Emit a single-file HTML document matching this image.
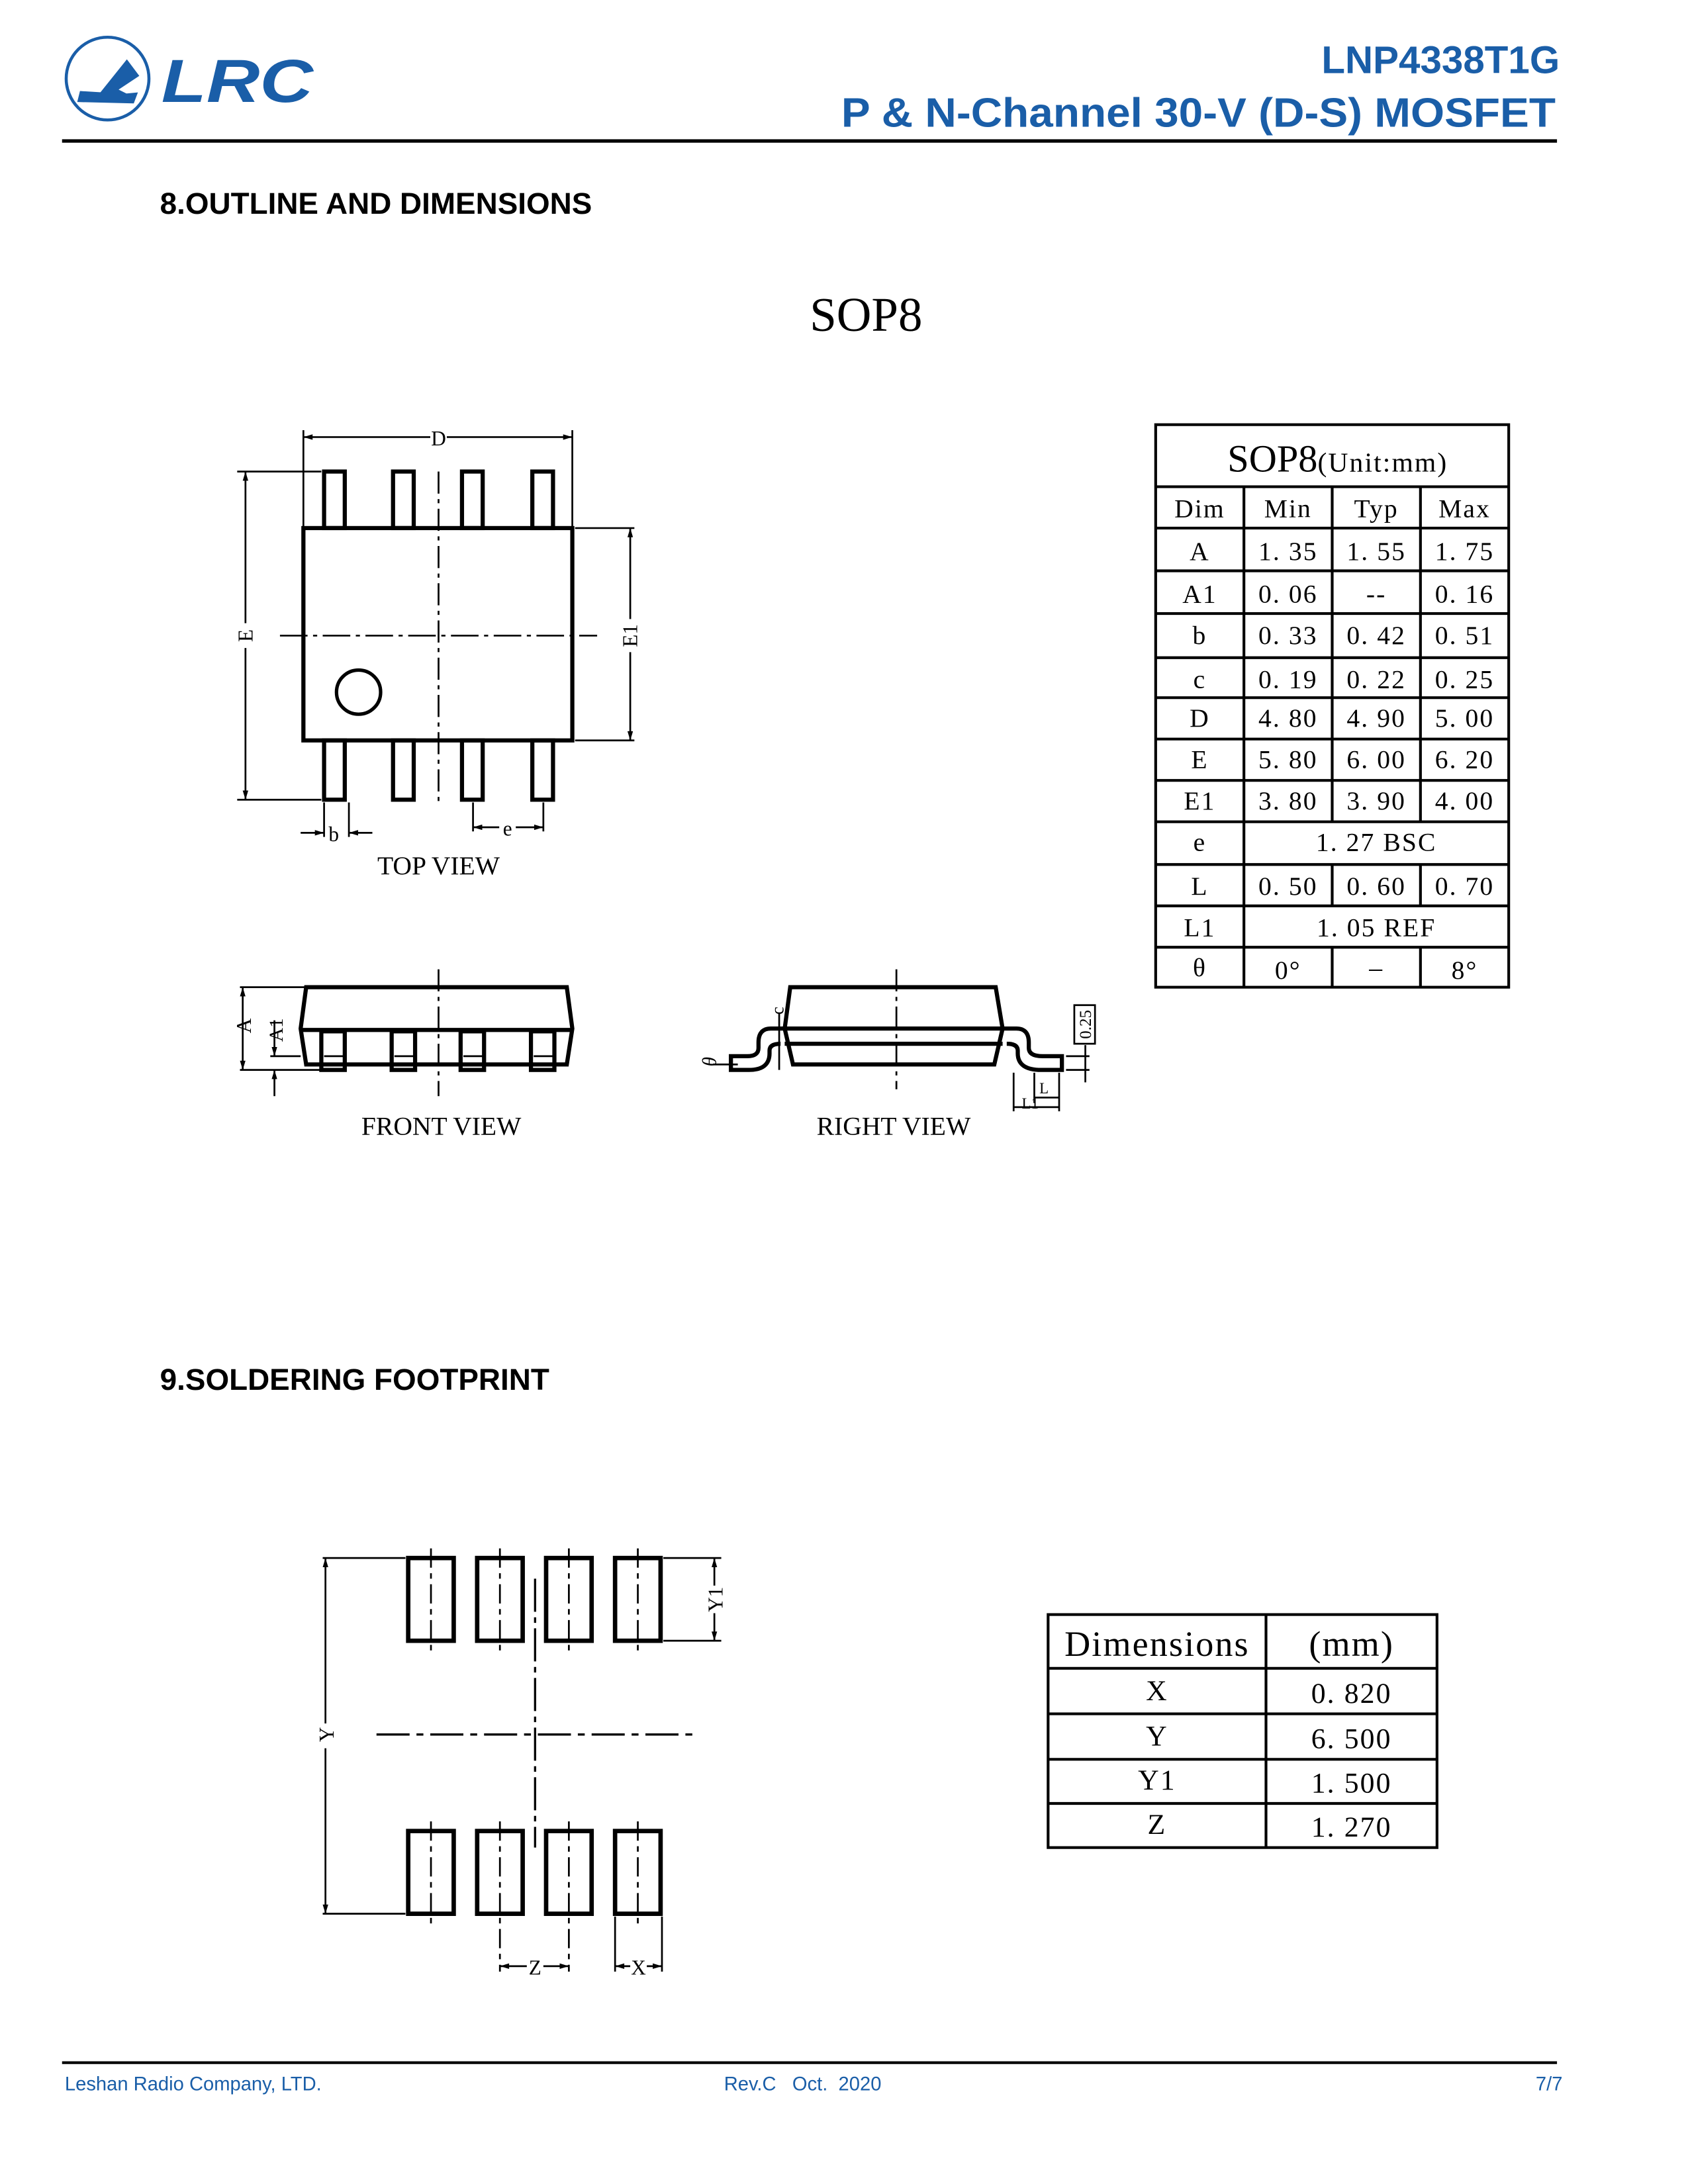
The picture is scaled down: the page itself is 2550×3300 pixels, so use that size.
<!DOCTYPE html>
<html><head><meta charset="utf-8"><style>
html,body{margin:0;padding:0;background:#fff;}
svg{display:block;}
.s{font-family:"Liberation Serif","Noto Serif CJK SC",serif;fill:#000;}
.h{font-family:"Liberation Sans",sans-serif;font-weight:bold;}
.b{font-family:"Liberation Sans",sans-serif;fill:#1a5ea8;}
.t{letter-spacing:1px;}
</style></head><body>
<svg width="2550" height="3300" viewBox="0 0 1224 1584" xmlns="http://www.w3.org/2000/svg">
<defs>
<marker id="ar" viewBox="0 0 10 6" refX="10" refY="3" markerWidth="8" markerHeight="4" orient="auto-start-reverse" markerUnits="userSpaceOnUse"><path d="M0,0 L10,3 L0,6 z" fill="#000"/></marker>
</defs>
<rect width="1224" height="1584" fill="#fff"/>
<!-- header -->
<circle cx="78" cy="57" r="30" fill="none" stroke="#1a5ea8" stroke-width="2.2"/>
<path d="M58,66 L90,68 L100,67 L97,75 L56,74 Z M72,68 L92,43 L101,55 L86,65 L92,68 Z" fill="#1a5ea8"/>
<text x="117" y="74" class="b" font-size="44" font-weight="bold" font-style="italic" textLength="110" lengthAdjust="spacingAndGlyphs">LRC</text>
<text x="1131" y="53" class="b" font-size="28" font-weight="bold" text-anchor="end">LNP4338T1G</text>
<text x="1128" y="92" class="b" font-size="30" font-weight="bold" text-anchor="end" textLength="518" lengthAdjust="spacingAndGlyphs">P &amp; N-Channel 30-V (D-S) MOSFET</text>
<rect x="45" y="101" width="1084" height="2.5" fill="#000"/>
<text x="116" y="155" class="h" font-size="22">8.OUTLINE AND DIMENSIONS</text>
<text x="628" y="240" class="s" font-size="35" text-anchor="middle">SOP8</text>

<!-- TOP VIEW -->
<g fill="none" stroke="#000" stroke-width="3">
<rect x="220" y="383" width="195" height="154"/>
<rect x="235" y="342" width="15" height="41"/><rect x="285" y="342" width="15" height="41"/><rect x="335" y="342" width="15" height="41"/><rect x="386" y="342" width="15" height="41"/>
<rect x="235" y="537" width="15" height="43"/><rect x="285" y="537" width="15" height="43"/><rect x="335" y="537" width="15" height="43"/><rect x="386" y="537" width="15" height="43"/>
<circle cx="260" cy="502" r="16" stroke-width="2.5"/>
</g>
<g stroke="#000" stroke-width="1.3" fill="none">
<line x1="318" y1="342" x2="318" y2="585" stroke-dasharray="16,4,3,4"/>
<line x1="203" y1="461" x2="433" y2="461" stroke-dasharray="20,4,3,4"/>
<line x1="220" y1="312" x2="220" y2="383"/><line x1="415" y1="312" x2="415" y2="383"/>
<line x1="220" y1="317" x2="312" y2="317" marker-start="url(#ar)"/><line x1="324" y1="317" x2="415" y2="317" marker-end="url(#ar)"/>
<line x1="172" y1="342" x2="233" y2="342"/><line x1="172" y1="580" x2="233" y2="580"/>
<line x1="178" y1="342" x2="178" y2="452" marker-start="url(#ar)"/><line x1="178" y1="470" x2="178" y2="580" marker-end="url(#ar)"/>
<line x1="417" y1="383" x2="460" y2="383"/><line x1="417" y1="537" x2="460" y2="537"/>
<line x1="457" y1="383" x2="457" y2="449" marker-start="url(#ar)"/><line x1="457" y1="473" x2="457" y2="537" marker-end="url(#ar)"/>
<line x1="235" y1="582" x2="235" y2="607"/><line x1="253" y1="582" x2="253" y2="607"/>
<line x1="218" y1="604" x2="235" y2="604" marker-end="url(#ar)"/><line x1="270" y1="604" x2="253" y2="604" marker-end="url(#ar)"/>
<line x1="343" y1="582" x2="343" y2="603"/><line x1="394" y1="582" x2="394" y2="603"/>
<line x1="343" y1="600" x2="362" y2="600" marker-start="url(#ar)"/><line x1="374" y1="600" x2="394" y2="600" marker-end="url(#ar)"/>
</g>
<text x="318" y="323" class="s" font-size="15" text-anchor="middle">D</text>
<text transform="translate(183,461) rotate(-90)" class="s" font-size="15" text-anchor="middle">E</text>
<text transform="translate(462,461) rotate(-90)" class="s" font-size="15" text-anchor="middle">E1</text>
<text x="242" y="610" class="s" font-size="15" text-anchor="middle">b</text>
<text x="368" y="606" class="s" font-size="15" text-anchor="middle">e</text>
<text x="318" y="634" class="s" font-size="19" text-anchor="middle">TOP VIEW</text>

<!-- FRONT VIEW -->
<g fill="none" stroke="#000" stroke-width="3">
<path d="M222,716 L411,716 L415,746 L411,772 L222,772 L218,746 Z"/>
<line x1="218" y1="747" x2="415" y2="747"/>
<rect x="233" y="748" width="17" height="28"/><rect x="284" y="748" width="17" height="28"/><rect x="334" y="748" width="17" height="28"/><rect x="385" y="748" width="17" height="28"/>
</g>
<g stroke="#000" stroke-width="1.3" fill="none">
<line x1="235" y1="766" x2="249" y2="766"/><line x1="286" y1="766" x2="300" y2="766"/><line x1="336" y1="766" x2="350" y2="766"/><line x1="387" y1="766" x2="401" y2="766"/>
<line x1="318" y1="703" x2="318" y2="795" stroke-dasharray="16,4,3,4"/>
<line x1="174" y1="716" x2="222" y2="716"/><line x1="174" y1="776" x2="232" y2="776"/>
<line x1="176" y1="716" x2="176" y2="776" marker-start="url(#ar)" marker-end="url(#ar)"/>
<line x1="196" y1="766" x2="218" y2="766"/>
<line x1="199" y1="740" x2="199" y2="766" marker-end="url(#ar)"/><line x1="199" y1="795" x2="199" y2="776" marker-end="url(#ar)"/>
</g>
<text transform="translate(182,744) rotate(-90)" class="s" font-size="15" text-anchor="middle">A</text>
<text transform="translate(205,747) rotate(-90)" class="s" font-size="14" text-anchor="middle">A1</text>
<text x="320" y="823" class="s" font-size="19" text-anchor="middle">FRONT VIEW</text>

<!-- RIGHT VIEW -->
<g fill="none" stroke="#000" stroke-width="3">
<path d="M573,716 L722,716 L727,746 L721,772 L575,772 L569,746 Z"/>
<line x1="569" y1="746" x2="727" y2="746"/>
<line x1="569" y1="757" x2="727" y2="757"/>
<path d="M727,746 L737,746 Q746,746 746,756 L746,760 Q746,766 756,766 L770,766 L770,776 L755,776 Q738,776 738,764 L738,762 Q738,757 730,757"/>
<path d="M569,746 L559,746 Q550,746 550,756 L550,760 Q550,766 542,766 L530,766 L530,776 L543,776 Q558,776 558,764 L558,762 Q558,757 566,757"/>
</g>
<g stroke="#000" stroke-width="1.3" fill="none">
<line x1="650" y1="703" x2="650" y2="790" stroke-dasharray="16,4,3,4"/>
<line x1="565" y1="735" x2="565" y2="776"/>
<line x1="773" y1="766" x2="790" y2="766"/><line x1="773" y1="776" x2="790" y2="776"/>
<line x1="787" y1="758" x2="787" y2="785"/>
<line x1="750" y1="778" x2="750" y2="800"/><line x1="768" y1="778" x2="768" y2="806"/><line x1="735" y1="778" x2="735" y2="806"/>
<line x1="750" y1="796" x2="768" y2="796"/>
<line x1="735" y1="803" x2="768" y2="803"/>
<line x1="517" y1="772" x2="535" y2="772"/>
</g>
<rect x="779" y="729" width="15" height="28" fill="#fff" stroke="#000" stroke-width="1.3"/>
<text transform="translate(791,743) rotate(-90)" class="s" font-size="12" text-anchor="middle">0.25</text>
<text transform="translate(568,733) rotate(-90)" class="s" font-size="13" text-anchor="middle">c</text>
<text transform="translate(519,770) rotate(-90)" class="s" font-size="14" font-style="italic" text-anchor="middle">θ</text>
<text x="757" y="793" class="s" font-size="11" text-anchor="middle">L</text>
<text x="747" y="804" class="s" font-size="11" text-anchor="middle">L1</text>
<text x="648" y="823" class="s" font-size="19" text-anchor="middle">RIGHT VIEW</text>

<!-- Dim table -->
<g stroke="#000" stroke-width="2" fill="none">
<rect x="838" y="308" width="256" height="408"/>
<line x1="838" y1="353" x2="1094" y2="353"/>
<line x1="838" y1="383" x2="1094" y2="383"/><line x1="838" y1="414" x2="1094" y2="414"/><line x1="838" y1="445" x2="1094" y2="445"/>
<line x1="838" y1="477" x2="1094" y2="477"/><line x1="838" y1="506" x2="1094" y2="506"/><line x1="838" y1="536" x2="1094" y2="536"/>
<line x1="838" y1="566" x2="1094" y2="566"/><line x1="838" y1="596" x2="1094" y2="596"/><line x1="838" y1="627" x2="1094" y2="627"/>
<line x1="838" y1="657" x2="1094" y2="657"/><line x1="838" y1="687" x2="1094" y2="687"/>
<line x1="902" y1="353" x2="902" y2="716"/>
<line x1="966" y1="353" x2="966" y2="596"/><line x1="1030" y1="353" x2="1030" y2="596"/>
<line x1="966" y1="627" x2="966" y2="657"/><line x1="1030" y1="627" x2="1030" y2="657"/>
<line x1="966" y1="687" x2="966" y2="716"/><line x1="1030" y1="687" x2="1030" y2="716"/>
</g>
<text x="970" y="342" class="s" text-anchor="middle"><tspan font-size="28">SOP8</tspan><tspan font-size="20" letter-spacing="1">(Unit:mm)</tspan></text>
<g class="s t" font-size="19" text-anchor="middle">
<text x="870" y="375">Dim</text><text x="934" y="375">Min</text><text x="998" y="375">Typ</text><text x="1062" y="375">Max</text>
<text x="870" y="406">A</text><text x="934" y="406">1. 35</text><text x="998" y="406">1. 55</text><text x="1062" y="406">1. 75</text>
<text x="870" y="437">A1</text><text x="934" y="437">0. 06</text><text x="998" y="437">--</text><text x="1062" y="437">0. 16</text>
<text x="870" y="467">b</text><text x="934" y="467">0. 33</text><text x="998" y="467">0. 42</text><text x="1062" y="467">0. 51</text>
<text x="870" y="499">c</text><text x="934" y="499">0. 19</text><text x="998" y="499">0. 22</text><text x="1062" y="499">0. 25</text>
<text x="870" y="527">D</text><text x="934" y="527">4. 80</text><text x="998" y="527">4. 90</text><text x="1062" y="527">5. 00</text>
<text x="870" y="557">E</text><text x="934" y="557">5. 80</text><text x="998" y="557">6. 00</text><text x="1062" y="557">6. 20</text>
<text x="870" y="587">E1</text><text x="934" y="587">3. 80</text><text x="998" y="587">3. 90</text><text x="1062" y="587">4. 00</text>
<text x="870" y="617">e</text><text x="998" y="617">1. 27 BSC</text>
<text x="870" y="649">L</text><text x="934" y="649">0. 50</text><text x="998" y="649">0. 60</text><text x="1062" y="649">0. 70</text>
<text x="870" y="679">L1</text><text x="998" y="679">1. 05 REF</text>
<text x="870" y="708">θ</text><text x="934" y="710">0°</text><text x="998" y="708">–</text><text x="1062" y="710">8°</text>
</g>

<!-- Footprint -->
<text x="116" y="1008" class="h" font-size="22">9.SOLDERING  FOOTPRINT</text>
<g fill="none" stroke="#000" stroke-width="3.2">
<rect x="296" y="1130" width="33" height="60"/><rect x="346" y="1130" width="33" height="60"/><rect x="396" y="1130" width="33" height="60"/><rect x="446" y="1130" width="33" height="60"/>
<rect x="296" y="1328" width="33" height="60"/><rect x="346" y="1328" width="33" height="60"/><rect x="396" y="1328" width="33" height="60"/><rect x="446" y="1328" width="33" height="60"/>
</g>
<g stroke="#000" stroke-width="1.3" fill="none">
<g stroke-dasharray="14,4,4,4">
<line x1="312.5" y1="1123" x2="312.5" y2="1197"/><line x1="362.5" y1="1123" x2="362.5" y2="1197"/><line x1="412.5" y1="1123" x2="412.5" y2="1197"/><line x1="462.5" y1="1123" x2="462.5" y2="1197"/>
<line x1="312.5" y1="1321" x2="312.5" y2="1395"/><line x1="462.5" y1="1321" x2="462.5" y2="1395"/>
<line x1="362.5" y1="1321" x2="362.5" y2="1430"/><line x1="412.5" y1="1321" x2="412.5" y2="1430"/>
</g>
<line x1="388" y1="1145" x2="388" y2="1340" stroke-dasharray="24,4,4,4" stroke-width="1.6"/>
<line x1="273" y1="1258" x2="503" y2="1258" stroke-dasharray="24,5,5,5" stroke-width="1.6"/>
<line x1="234" y1="1130" x2="294" y2="1130"/><line x1="234" y1="1388" x2="294" y2="1388"/>
<line x1="236" y1="1130" x2="236" y2="1250" marker-start="url(#ar)"/><line x1="236" y1="1268" x2="236" y2="1388" marker-end="url(#ar)"/>
<line x1="481" y1="1130" x2="523" y2="1130"/><line x1="481" y1="1190" x2="523" y2="1190"/>
<line x1="518" y1="1130" x2="518" y2="1150" marker-start="url(#ar)"/><line x1="518" y1="1170" x2="518" y2="1190" marker-end="url(#ar)"/>
<line x1="362.5" y1="1426" x2="382" y2="1426" marker-start="url(#ar)"/><line x1="394" y1="1426" x2="412.5" y2="1426" marker-end="url(#ar)"/>
<line x1="446" y1="1390" x2="446" y2="1430"/><line x1="480" y1="1390" x2="480" y2="1430"/>
<line x1="446" y1="1426" x2="457" y2="1426" marker-start="url(#ar)"/><line x1="469" y1="1426" x2="480" y2="1426" marker-end="url(#ar)"/>
</g>
<text transform="translate(242,1258) rotate(-90)" class="s" font-size="15" text-anchor="middle">Y</text>
<text transform="translate(524,1160) rotate(-90)" class="s" font-size="15" text-anchor="middle">Y1</text>
<text x="388" y="1432" class="s" font-size="15" text-anchor="middle">Z</text>
<text x="463" y="1432" class="s" font-size="15" text-anchor="middle">X</text>

<g stroke="#000" stroke-width="2" fill="none">
<rect x="760" y="1171" width="282" height="169"/>
<line x1="918" y1="1171" x2="918" y2="1340"/>
<line x1="760" y1="1210" x2="1042" y2="1210"/><line x1="760" y1="1243" x2="1042" y2="1243"/><line x1="760" y1="1276" x2="1042" y2="1276"/><line x1="760" y1="1308" x2="1042" y2="1308"/>
</g>
<g class="s t" text-anchor="middle">
<text x="839" y="1201" font-size="26">Dimensions</text><text x="980" y="1201" font-size="26">(mm)</text>
<text x="839" y="1233" font-size="21">X</text><text x="980" y="1235" font-size="21">0. 820</text>
<text x="839" y="1266" font-size="21">Y</text><text x="980" y="1268" font-size="21">6. 500</text>
<text x="839" y="1298" font-size="21">Y1</text><text x="980" y="1300" font-size="21">1. 500</text>
<text x="839" y="1330" font-size="21">Z</text><text x="980" y="1332" font-size="21">1. 270</text>
</g>

<!-- footer -->
<rect x="45" y="1495" width="1084" height="2" fill="#000"/>
<text x="47" y="1516" class="b" font-size="14">Leshan Radio Company, LTD.</text>
<text x="525" y="1516" class="b" font-size="14" xml:space="preserve">Rev.C   Oct.  2020</text>
<text x="1133" y="1516" class="b" font-size="14" text-anchor="end">7/7</text>
</svg>
</body></html>
